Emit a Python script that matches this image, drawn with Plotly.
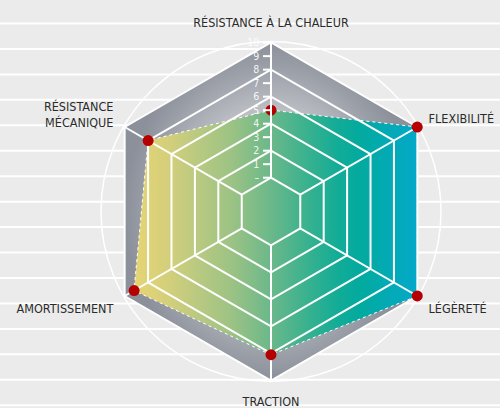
import math
import plotly.graph_objects as go

# ---- data ----
categories = ["RÉSISTANCE À LA CHALEUR", "FLEXIBILITÉ", "LÉGÈRETÉ", "TRACTION",
              "AMORTISSEMENT", "RÉSISTANCE<br>MÉCANIQUE"]
values = [5, 10, 10, 8.1, 9.2, 8]
max_value = 10
tick_values = list(range(0, 11))
tick_labels = ["–"] + [str(v) for v in range(1, 11)]
grid_values = [0, 2, 4, 6, 8, 10]

W, H = 500, 408
cx, cy, R = 271, 211.5, 169
HOLE = 0.2
FONT = "DejaVu Sans Condensed, Liberation Sans Narrow, sans-serif"

theta_closed = categories + [categories[0]]
r_closed = values + [values[0]]

dom_x = [(cx - R) / W, (cx + R) / W]
dom_y = [1 - (cy + R) / H, 1 - (cy - R) / H]
domain = dict(x=dom_x, y=dom_y)

# projection of a radar value onto the (square) cartesian frame that sits under the polar plot
n = len(categories)
def project(vals):
    xs, ys = [], []
    for i, v in enumerate(vals + [vals[0]]):
        ang = math.pi / 2 - 2 * math.pi * (i % n) / n
        rho = HOLE + (1 - HOLE) * v / max_value
        xs.append(rho * math.cos(ang))
        ys.append(rho * math.sin(ang))
    return xs, ys

def base_polar():
    return dict(
        domain=domain, gridshape="linear", hole=HOLE, bgcolor="rgba(0,0,0,0)",
        angularaxis=dict(rotation=90, direction="clockwise", type="category",
                         categoryorder="array", categoryarray=categories,
                         showgrid=False, showline=False, showticklabels=False, ticks=""),
        radialaxis=dict(range=[0, max_value], showgrid=False, showline=False,
                        showticklabels=False, ticks=""),
    )

fig = go.Figure()

# gradient fills (cartesian frame underneath)
gx, gy = project([max_value] * n)
fig.add_trace(go.Scatter(x=gx, y=gy, mode="lines", fill="toself",
                         line=dict(width=0, color="rgba(0,0,0,0)"), hoverinfo="skip",
                         showlegend=False,
                         fillgradient=dict(type="radial",
                                           colorscale=[[0, "#d4d6da"], [0.55, "#c3c5ca"],
                                                       [0.85, "#9b9fa8"], [1, "#8b909a"]])))
dx, dy = project(values)
fig.add_trace(go.Scatter(x=dx, y=dy, mode="lines", fill="toself",
                         line=dict(width=0, color="rgba(0,0,0,0)"), hoverinfo="skip",
                         showlegend=False,
                         fillgradient=dict(type="horizontal",
                                           colorscale=[[0, "#e6d574"], [0.12, "#d4cf7b"],
                                                       [0.23, "#b8c981"], [0.34, "#9dc384"],
                                                       [0.48, "#6cb88a"], [0.6, "#3db28e"],
                                                       [0.72, "#12ac97"], [0.8, "#02aa9f"],
                                                       [0.9, "#03aab5"], [1, "#03a9c9"]])))

# grid layer + dotted outline
fig.add_trace(go.Scatterpolar(r=r_closed, theta=theta_closed, mode="lines",
                              line=dict(color="white", width=1, dash="dot"),
                              hoverinfo="skip", showlegend=False, subplot="polar"))
# markers on top layer
fig.add_trace(go.Scatterpolar(r=values, theta=categories, mode="markers",
                              marker=dict(color="#b50000", size=11),
                              showlegend=False, subplot="polar2"))

p1 = base_polar()
p1["radialaxis"].update(tickvals=grid_values, showgrid=True, gridcolor="white", gridwidth=1.8)
p1["angularaxis"].update(showgrid=True, gridcolor="white", gridwidth=1.8,
                         showline=True, linecolor="white", linewidth=2,
                         showticklabels=True, ticks="outside", ticklen=9.5,
                         tickcolor="rgba(0,0,0,0)",
                         tickfont=dict(family=FONT, size=12.5, color="#2b2b2b"))

p2 = base_polar()
p2["radialaxis"].update(range=[0, max_value * 1.001],
                        tickvals=tick_values, ticktext=tick_labels, angle=90, tickangle=90,
                        side="counterclockwise", showline=True, linecolor="white",
                        linewidth=2, ticks="outside", ticklen=7, tickwidth=1.5,
                        tickcolor="white", showticklabels=True,
                        tickfont=dict(family=FONT, size=10.5, color="rgba(255,255,255,0.9)"))

shapes = []
for k in range(16):
    y = 23.5 + 25.45 * k
    shapes.append(dict(type="line", xref="paper", yref="paper", x0=0, x1=1,
                       y0=1 - y / H, y1=1 - y / H, line=dict(color="white", width=2),
                       layer="below"))
rc = 170
shapes.append(dict(type="circle", xref="paper", yref="paper",
                   x0=(cx - rc) / W, x1=(cx + rc) / W,
                   y0=1 - (cy + rc) / H, y1=1 - (cy - rc) / H,
                   line=dict(color="white", width=1.5), layer="below"))

axis_common = dict(range=[-1, 1], visible=False, showgrid=False, zeroline=False, fixedrange=True)
fig.update_layout(
    width=W, height=H, margin=dict(l=0, r=0, t=0, b=0),
    paper_bgcolor="#ebebeb", plot_bgcolor="rgba(0,0,0,0)",
    xaxis=dict(domain=dom_x, **axis_common),
    yaxis=dict(domain=dom_y, **axis_common),
    polar=p1, polar2=p2, shapes=shapes,
    font=dict(family=FONT),
)

fig.write_html("out.html", config={"displayModeBar": False},
               post_script="document.body.style.margin='0';")
